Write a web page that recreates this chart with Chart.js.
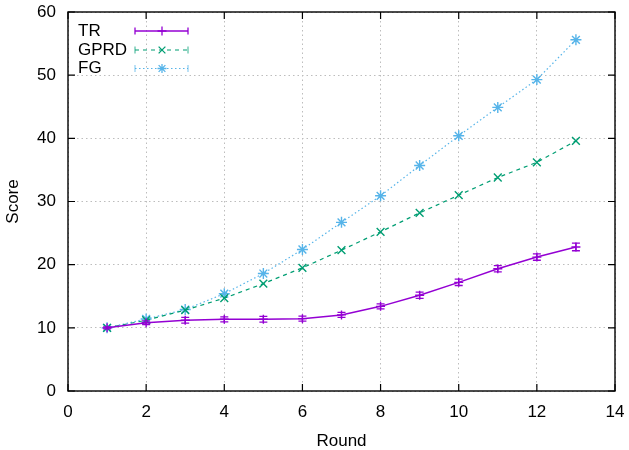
<!DOCTYPE html>
<html>
<head>
<meta charset="utf-8">
<script src="https://cdn.jsdelivr.net/npm/chart.js@4/dist/chart.umd.min.js"></script>
<style>
  html, body { margin: 0; padding: 0; background: #fff; }
  #wrap { width: 629px; height: 450px; }
</style>
</head>
<body>
<div id="wrap"><canvas id="c" width="629" height="450"></canvas></div>
<script>
const rounds = [1, 2, 3, 4, 5, 6, 7, 8, 9, 10, 11, 12, 13];
const trValues = [10.0, 10.8, 11.2, 11.35, 11.35, 11.45, 12.05, 13.4, 15.15, 17.2, 19.35, 21.2, 22.8];
const trErrors = [0.15, 0.3, 0.45, 0.4, 0.45, 0.4, 0.4, 0.4, 0.5, 0.5, 0.5, 0.5, 0.6];
const gprdValues = [10.0, 11.2, 12.8, 14.7, 17.0, 19.5, 22.3, 25.2, 28.2, 31.0, 33.8, 36.2, 39.6];
const fgValues = [10.0, 11.4, 12.9, 15.4, 18.6, 22.4, 26.7, 30.9, 35.7, 40.4, 44.9, 49.3, 55.6];
const seriesLabels = ['TR', 'GPRD', 'FG'];
const xTicks = [0, 2, 4, 6, 8, 10, 12, 14];
const yTicks = [0, 10, 20, 30, 40, 50, 60];
const xTitle = 'Round';
const yTitle = 'Score';

const COLORS = ['#9400d3', '#009e73', '#56b4e9'];
const FONT = { family: "'Liberation Sans', Arial, sans-serif", size: 17 };

const toPts = vals => rounds.map((r, i) => ({ x: r, y: vals[i] }));

function drawMarker(ctx, style, x, y, r) {
  ctx.beginPath();
  if (style === 'cross' || style === 'star') {
    ctx.moveTo(x - r, y); ctx.lineTo(x + r, y);
    ctx.moveTo(x, y - r); ctx.lineTo(x, y + r);
  }
  if (style === 'crossRot' || style === 'star') {
    const d = r * 0.75;
    ctx.moveTo(x - d, y - d); ctx.lineTo(x + d, y + d);
    ctx.moveTo(x - d, y + d); ctx.lineTo(x + d, y - d);
  }
  ctx.stroke();
}

const framePlugin = {
  id: 'frame',
  afterDatasetsDraw(chart) {
    const { ctx, chartArea: a, scales } = chart;
    const xs = scales.x, ys = scales.y;
    // error bars for TR
    ctx.save();
    ctx.strokeStyle = COLORS[0];
    ctx.lineWidth = 1.3;
    ctx.setLineDash([]);
    rounds.forEach((r, i) => {
      const px = xs.getPixelForValue(r);
      const lo = ys.getPixelForValue(trValues[i] - trErrors[i]);
      const hi = ys.getPixelForValue(trValues[i] + trErrors[i]);
      ctx.beginPath();
      ctx.moveTo(px, lo); ctx.lineTo(px, hi);
      ctx.moveTo(px - 4, lo); ctx.lineTo(px + 4, lo);
      ctx.moveTo(px - 4, hi); ctx.lineTo(px + 4, hi);
      ctx.stroke();
    });
    ctx.restore();

    // border + inward ticks
    ctx.save();
    ctx.strokeStyle = '#000';
    ctx.lineWidth = 1.4;
    ctx.setLineDash([]);
    ctx.strokeRect(a.left, a.top, a.right - a.left, a.bottom - a.top);
    const tl = 7;
    ctx.beginPath();
    xTicks.forEach(v => {
      const px = xs.getPixelForValue(v);
      ctx.moveTo(px, a.bottom); ctx.lineTo(px, a.bottom - tl);
      ctx.moveTo(px, a.top); ctx.lineTo(px, a.top + tl);
    });
    yTicks.forEach(v => {
      const py = ys.getPixelForValue(v);
      ctx.moveTo(a.left, py); ctx.lineTo(a.left + tl, py);
      ctx.moveTo(a.right, py); ctx.lineTo(a.right - tl, py);
    });
    ctx.lineWidth = 1.2;
    ctx.stroke();
    ctx.restore();

    // legend (gnuplot style: text then sample)
    ctx.save();
    ctx.font = `${FONT.size}px ${FONT.family}`;
    ctx.textBaseline = 'middle';
    ctx.textAlign = 'left';
    const rowsY = [30, 49, 67.5];
    chart.data.datasets.forEach((ds, i) => {
      const y = rowsY[i];
      ctx.fillStyle = '#000';
      ctx.fillText(ds.label, 78, y + 1);
      ctx.strokeStyle = ds.borderColor;
      ctx.lineWidth = ds.borderWidth;
      ctx.setLineDash(ds.borderDash || []);
      ctx.beginPath();
      ctx.moveTo(135, y + 1); ctx.lineTo(188, y + 1);
      ctx.stroke();
      ctx.setLineDash([]);
      ctx.beginPath();
      ctx.moveTo(135, y + 1 - 3.5); ctx.lineTo(135, y + 1 + 3.5);
      ctx.moveTo(188, y + 1 - 3.5); ctx.lineTo(188, y + 1 + 3.5);
      ctx.lineWidth = i === 0 ? 1.3 : 0.8;
      ctx.stroke();
      ctx.lineWidth = 1.3;
      drawMarker(ctx, ds.pointStyle, 162, y + 1, 4.5);
    });
    ctx.restore();
  }
};

new Chart(document.getElementById('c'), {
  type: 'line',
  data: {
    datasets: [
      {
        label: seriesLabels[0], data: toPts(trValues),
        borderColor: COLORS[0], backgroundColor: COLORS[0],
        borderWidth: 1.5, pointStyle: 'cross', pointRadius: 4.5, pointBorderWidth: 1.4,
        tension: 0, fill: false
      },
      {
        label: seriesLabels[1], data: toPts(gprdValues),
        borderColor: COLORS[1], backgroundColor: COLORS[1],
        borderWidth: 1.2, borderDash: [4, 4], pointStyle: 'crossRot', pointRadius: 5.5, pointBorderWidth: 1.4,
        tension: 0, fill: false
      },
      {
        label: seriesLabels[2], data: toPts(fgValues),
        borderColor: COLORS[2], backgroundColor: COLORS[2],
        borderWidth: 1.2, borderDash: [1.5, 2.5], pointStyle: 'star', pointRadius: 5.5, pointBorderWidth: 1.4,
        tension: 0, fill: false
      }
    ]
  },
  options: {
    responsive: false,
    animation: false,
    devicePixelRatio: 1,
    layout: { padding: { left: 0, right: 14, top: 12, bottom: 0 } },
    plugins: { legend: { display: false }, tooltip: { enabled: false } },
    elements: { point: { hoverRadius: 4.5 } },
    scales: {
      x: {
        type: 'linear', min: 0, max: 14,
        afterBuildTicks: s => { s.ticks = xTicks.map(v => ({ value: v })); },
        afterFit: s => { s.height = 59; s.paddingLeft = 0; s.paddingRight = 0; },
        ticks: { color: '#000', font: FONT, padding: 11, maxRotation: 0 },
        grid: { color: '#bdbdbd', lineWidth: 1, drawTicks: false },
        border: { display: false, dash: [1.5, 3] },
        title: { display: true, text: xTitle, color: '#000', font: FONT, padding: { top: 0, bottom: -2 } }
      },
      y: {
        type: 'linear', min: 0, max: 60,
        afterBuildTicks: s => { s.ticks = yTicks.map(v => ({ value: v })); },
        afterFit: s => { s.width = 68; s.paddingTop = 0; s.paddingBottom = 0; },
        ticks: { color: '#000', font: FONT, padding: 12 },
        grid: { color: '#bdbdbd', lineWidth: 1, drawTicks: false },
        border: { display: false, dash: [1.5, 3] },
        title: { display: true, text: yTitle, color: '#000', font: FONT, padding: { top: 3, bottom: 0 } }
      }
    }
  },
  plugins: [framePlugin]
});
</script>
</body>
</html>
